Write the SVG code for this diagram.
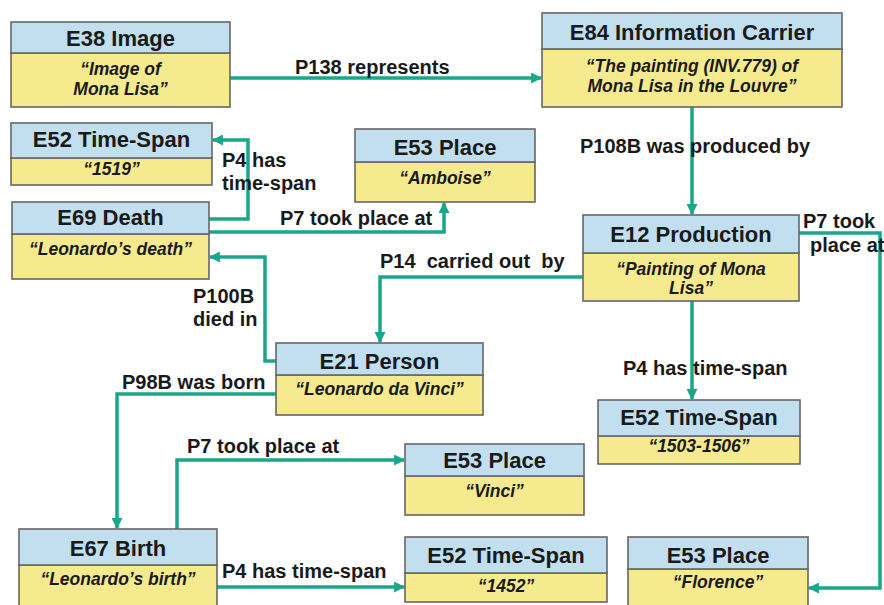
<svg xmlns="http://www.w3.org/2000/svg" width="884" height="605" viewBox="0 0 884 605">
<style>
.hd{fill:#c1dfee;stroke:#666;stroke-width:1.6}
.bd{fill:#f5eb8e;stroke:#666;stroke-width:1.6}
.t{font-family:"Liberation Sans",Arial,sans-serif;font-weight:bold;font-size:22px;fill:#1a1a1a;text-anchor:middle}
.s{font-family:"Liberation Sans",Arial,sans-serif;font-weight:bold;font-style:italic;font-size:17.5px;fill:#1a1a1a;text-anchor:middle}
.l{font-family:"Liberation Sans",Arial,sans-serif;font-weight:bold;font-size:20px;fill:#1a1a1a}
.c{fill:none;stroke:#1aa68a;stroke-width:3.5;marker-end:url(#ah)}
</style>
<defs>
<marker id="ah" markerUnits="userSpaceOnUse" viewBox="0 0 10 10" refX="9" refY="5" markerWidth="11" markerHeight="11" orient="auto">
<path d="M0,0 L10,5 L0,10 z" fill="#1aa68a"/>
</marker>
</defs>
<rect width="884" height="605" fill="#fff"/>

<g id="connectors">
<path class="c" d="M230,78 H541"/>
<path class="c" d="M692,107 V214"/>
<path class="c" d="M209,219 H248 V140 H213"/>
<path class="c" d="M209,232 H444 V203"/>
<path class="c" d="M583,277 H380 V342"/>
<path class="c" d="M276,361 H265 V257 H210"/>
<path class="c" d="M276,394 H117 V528"/>
<path class="c" d="M177,529 V460 H404"/>
<path class="c" d="M217,587 H404"/>
<path class="c" d="M692,301 V399"/>
<path class="c" d="M799,233 H880 V588 H809"/>
</g>

<g id="labels">
<text class="l" x="295" y="74">P138 represents</text>
<text class="l" x="580" y="153">P108B was produced by</text>
<text class="l" x="222" y="167">P4 has</text>
<text class="l" x="222" y="190">time-span</text>
<text class="l" x="280" y="225">P7 took place at</text>
<text class="l" x="380" y="268" xml:space="preserve">P14  carried out  by</text>
<text class="l" x="193" y="303">P100B</text>
<text class="l" x="193" y="326">died in</text>
<text class="l" x="122" y="389">P98B was born</text>
<text class="l" x="187" y="453">P7 took place at</text>
<text class="l" x="222" y="578">P4 has time-span</text>
<text class="l" x="623" y="375">P4 has time-span</text>
<text class="l" x="803" y="228">P7 took</text>
<text class="l" x="810" y="252">place at</text>
</g>

<g id="e38">
<rect class="bd" x="11" y="53" width="219" height="54"/>
<rect class="hd" x="11" y="22" width="219" height="31"/>
<text class="t" x="120.5" y="46">E38 Image</text>
<text class="s" x="120.5" y="75">“Image of</text>
<text class="s" x="120.5" y="95">Mona Lisa”</text>
</g>

<g id="e84">
<rect class="bd" x="542" y="49" width="300" height="58"/>
<rect class="hd" x="542" y="13" width="300" height="36"/>
<text class="t" x="692" y="40">E84 Information Carrier</text>
<text class="s" x="692" y="72">“The painting (INV.779) of</text>
<text class="s" x="692" y="92">Mona Lisa in the Louvre”</text>
</g>

<g id="e52-1519">
<rect class="bd" x="11" y="158" width="201" height="27"/>
<rect class="hd" x="11" y="123" width="201" height="35"/>
<text class="t" x="111.5" y="147">E52 Time-Span</text>
<text class="s" x="111.5" y="175">“1519”</text>
</g>

<g id="e53-amboise">
<rect class="bd" x="355" y="162" width="180" height="40"/>
<rect class="hd" x="355" y="129" width="180" height="33"/>
<text class="t" x="445" y="155">E53 Place</text>
<text class="s" x="445" y="184">“Amboise”</text>
</g>

<g id="e69">
<rect class="bd" x="12" y="234" width="197" height="45"/>
<rect class="hd" x="12" y="202" width="197" height="32"/>
<text class="t" x="110.5" y="225">E69 Death</text>
<text class="s" x="110.5" y="255">“Leonardo’s death”</text>
</g>

<g id="e12">
<rect class="bd" x="583" y="253" width="216" height="48"/>
<rect class="hd" x="583" y="215" width="216" height="38"/>
<text class="t" x="691" y="242">E12 Production</text>
<text class="s" x="691" y="275">“Painting of Mona</text>
<text class="s" x="691" y="294">Lisa”</text>
</g>

<g id="e21">
<rect class="bd" x="276" y="375" width="207" height="40"/>
<rect class="hd" x="276" y="343" width="207" height="32"/>
<text class="t" x="379.5" y="369">E21 Person</text>
<text class="s" x="379.5" y="395">“Leonardo da Vinci”</text>
</g>

<g id="e52-1503">
<rect class="bd" x="598" y="436" width="202" height="28"/>
<rect class="hd" x="598" y="400" width="202" height="36"/>
<text class="t" x="699" y="425">E52 Time-Span</text>
<text class="s" x="699" y="452">“1503-1506”</text>
</g>

<g id="e53-vinci">
<rect class="bd" x="405" y="476" width="179" height="39"/>
<rect class="hd" x="405" y="444" width="179" height="32"/>
<text class="t" x="494.5" y="468">E53 Place</text>
<text class="s" x="494.5" y="497">“Vinci”</text>
</g>

<g id="e67">
<rect class="bd" x="19" y="565" width="198" height="50"/>
<rect class="hd" x="19" y="529" width="198" height="36"/>
<text class="t" x="118" y="556">E67 Birth</text>
<text class="s" x="118" y="585">“Leonardo’s birth”</text>
</g>

<g id="e52-1452">
<rect class="bd" x="405" y="573" width="202" height="29"/>
<rect class="hd" x="405" y="537" width="202" height="36"/>
<text class="t" x="506" y="563">E52 Time-Span</text>
<text class="s" x="506" y="592">“1452”</text>
</g>

<g id="e53-florence">
<rect class="bd" x="628" y="569" width="180" height="46"/>
<rect class="hd" x="628" y="537" width="180" height="32"/>
<text class="t" x="718" y="563">E53 Place</text>
<text class="s" x="718" y="588">“Florence”</text>
</g>
</svg>
